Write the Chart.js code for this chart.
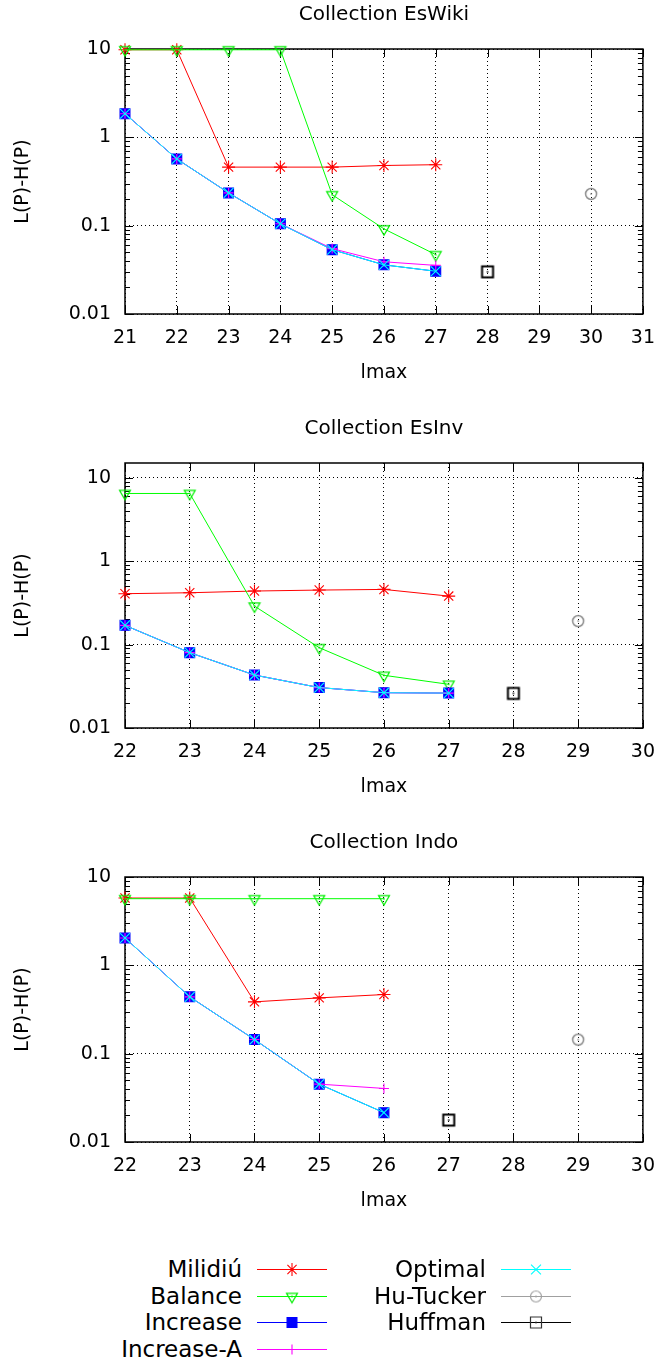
<!DOCTYPE html>
<html>
<head>
<meta charset="utf-8">
<script src="https://cdn.jsdelivr.net/npm/chart.js"></script>
<style>
  html, body { margin: 0; padding: 0; background: #fff; }
  #page { position: relative; width: 668px; height: 1364px; font-family: 'DejaVu Sans', sans-serif; }
  #page canvas.chart { position: absolute; left: 0; }
  .lg-label { position: absolute; left: 0; text-align: right; font-size: 23px; line-height: 26px; color: #000; white-space: nowrap; }
  .lg-sample { position: absolute; }
</style>
</head>
<body>
<div id="page">
  <canvas class="chart" id="c1" width="668" height="400" style="top:0"></canvas>
  <canvas class="chart" id="c2" width="668" height="400" style="top:414px"></canvas>
  <canvas class="chart" id="c3" width="668" height="400" style="top:828px"></canvas>
  <div id="legend"></div>
</div>
<script>
// ─── Data ─────────────────────────────────────────────────────────────────────

const yTickValues = [0.01, 0.1, 1, 10];
const yTickLabels = ['0.01', '0.1', '1', '10'];

// Collection EsWiki
const eswikiXTicks    = [21, 22, 23, 24, 25, 26, 27, 28, 29, 30, 31];
const eswikiLmax      = [21, 22, 23, 24, 25, 26, 27];
const eswikiMilidiu   = [9.8, 9.8, 0.46, 0.46, 0.46, 0.48, 0.49];
const eswikiBalance   = [9.8, 9.8, 9.8, 9.8, 0.224, 0.092, 0.047];
const eswikiIncrease  = [1.85, 0.57, 0.235, 0.105, 0.0535, 0.036, 0.0305];
const eswikiIncreaseA = [1.85, 0.57, 0.235, 0.105, 0.055, 0.039, 0.0355];
const eswikiOptimal   = [1.85, 0.57, 0.235, 0.105, 0.0535, 0.036, 0.0305];
const eswikiHuTuckerLmax = [30];
const eswikiHuTucker     = [0.229];
const eswikiHuffmanLmax  = [28];
const eswikiHuffman      = [0.030];

// Collection EsInv
const esinvXTicks    = [22, 23, 24, 25, 26, 27, 28, 29, 30];
const esinvLmax      = [22, 23, 24, 25, 26, 27];
const esinvMilidiu   = [0.407, 0.418, 0.438, 0.45, 0.458, 0.381];
const esinvBalance   = [6.47, 6.47, 0.289, 0.0918, 0.0428, 0.0334];
const esinvIncrease  = [0.170, 0.080, 0.0431, 0.0305, 0.0265, 0.0262];
const esinvIncreaseA = [0.170, 0.080, 0.0431, 0.0305, 0.0265, 0.0262];
const esinvOptimal   = [0.170, 0.080, 0.0431, 0.0305, 0.0265, 0.0262];
const esinvHuTuckerLmax = [29];
const esinvHuTucker     = [0.191];
const esinvHuffmanLmax  = [28];
const esinvHuffman      = [0.026];

// Collection Indo
const indoXTicks    = [22, 23, 24, 25, 26, 27, 28, 29, 30];
const indoLmax      = [22, 23, 24, 25, 26];
const indoMilidiu   = [5.78, 5.78, 0.386, 0.428, 0.467];
const indoBalance   = [5.68, 5.68, 5.68, 5.68, 5.68];
const indoIncrease  = [2.04, 0.44, 0.1445, 0.0452, 0.0215];
const indoIncreaseA = [2.04, 0.44, 0.1445, 0.0452, 0.0404];
const indoOptimal   = [2.04, 0.44, 0.1445, 0.0452, 0.0215];
const indoHuTuckerLmax = [29];
const indoHuTucker     = [0.144];
const indoHuffmanLmax  = [27];
const indoHuffman      = [0.0177];

// ─── Marker glyphs (gnuplot-like open points with a centre dot) ──────────────

function glyph(kind, color, lw) {
  const c = document.createElement('canvas');
  c.width = c.height = 18;
  const g = c.getContext('2d');
  const m = 9;
  g.strokeStyle = color;
  g.fillStyle = color;
  g.lineWidth = lw;
  g.beginPath();
  if (kind === 'tri') {
    g.moveTo(m - 5.5, m - 3.2);
    g.lineTo(m + 5.5, m - 3.2);
    g.lineTo(m, m + 6.3);
    g.closePath();
  } else if (kind === 'circle') {
    g.arc(m, m, 5.5, 0, 2 * Math.PI);
  } else {
    g.rect(m - 5.5, m - 5.5, 11, 11);
  }
  g.stroke();
  g.fillRect(m - 0.75, m - 0.75, 1.5, 1.5);
  return c;
}

const STYLES = {
  milidiu:   { label: 'Milidiú',    color: '#ff0000', pointStyle: 'star',     pointRadius: 6.5, order: 7 },
  balance:   { label: 'Balance',    color: '#00ff00', pointStyle: glyph('tri', '#00ee00', 1.2), legendStyle: glyph('tri', '#00ee00', 1.2), pointRadius: 6, order: 6 },
  increase:  { label: 'Increase',   color: '#0000ff', pointStyle: 'rect',     pointRadius: 7, fill: true, order: 5 },
  increaseA: { label: 'Increase-A', color: '#ff00ff', pointStyle: 'cross',    pointRadius: 5, order: 4 },
  optimal:   { label: 'Optimal',    color: '#00ffff', pointStyle: 'crossRot', pointRadius: 7, order: 3 },
  huTucker:  { label: 'Hu-Tucker',  color: '#a0a0a0', pointStyle: glyph('circle', '#8c8c8c', 1.5), legendStyle: glyph('circle', '#a0a0a0', 1.2), pointRadius: 6, order: 2, noLine: true },
  huffman:   { label: 'Huffman',    color: '#000000', pointStyle: glyph('square', '#000', 2), legendStyle: glyph('square', '#333', 1.2), pointRadius: 6, order: 1, noLine: true },
};

function series(key, xs, ys) {
  const s = STYLES[key];
  return {
    label: s.label,
    data: xs.map((x, i) => ({ x, y: ys[i] })),
    borderColor: s.color,
    backgroundColor: s.fill ? s.color : 'rgba(0,0,0,0)',
    borderWidth: 1,
    pointStyle: s.pointStyle,
    pointRadius: s.pointRadius,
    pointBorderWidth: 1.1,
    showLine: !s.noLine,
    tension: 0,
    clip: false,
    order: s.order,
  };
}

// ─── Frame and inward ticks ───────────────────────────────────────────────────

const frameTicks = {
  id: 'frameTicks',
  beforeDatasetsDraw(chart) {
    const { ctx, chartArea: a, scales: { x, y } } = chart;
    ctx.save();
    ctx.strokeStyle = '#000';
    ctx.lineWidth = 1;
    const seg = (x1, y1, x2, y2) => { ctx.beginPath(); ctx.moveTo(x1, y1); ctx.lineTo(x2, y2); ctx.stroke(); };
    x.ticks.forEach(t => {
      const px = Math.round(x.getPixelForValue(t.value)) + 0.5;
      seg(px, a.bottom, px, a.bottom - 8);
      seg(px, a.top, px, a.top + 8);
    });
    y.ticks.forEach(t => {
      const py = Math.round(y.getPixelForValue(t.value)) + 0.5;
      seg(a.left, py, a.left + 8, py);
      seg(a.right, py, a.right - 8, py);
    });
    for (let k = -2; k <= 1; k++) {
      for (let m = 2; m <= 9; m++) {
        const v = m * Math.pow(10, k);
        if (v < y.min || v > y.max) continue;
        const py = Math.round(y.getPixelForValue(v)) + 0.5;
        seg(a.left, py, a.left + 5, py);
        seg(a.right, py, a.right - 5, py);
      }
    }
    ctx.lineWidth = 1.5;
    ctx.strokeRect(a.left, a.top, a.right - a.left, a.bottom - a.top);
    ctx.restore();
  },
};

// ─── Chart builder ────────────────────────────────────────────────────────────

const FONT = 'DejaVu Sans';

function renderPanel(canvasId, title, xTicks, yMax, datasets) {
  const canvas = document.getElementById(canvasId);
  new Chart(canvas, {
    type: 'line',
    data: { datasets },
    options: {
      responsive: false,
      animation: false,
      events: [],
      layout: { padding: { left: 0, right: 16, top: 0, bottom: 0 } },
      plugins: {
        legend: { display: false },
        tooltip: { enabled: false },
        title: {
          display: true,
          text: title,
          fullSize: false,
          color: '#000',
          font: { family: FONT, size: 20, weight: 'normal', lineHeight: 1.2 },
          padding: { top: 3, bottom: 22 },
        },
      },
      scales: {
        x: {
          type: 'linear',
          min: xTicks[0],
          max: xTicks[xTicks.length - 1],
          afterBuildTicks: s => { s.ticks = xTicks.map(v => ({ value: v })); },
          afterFit: s => { s.height = 86; },
          ticks: {
            callback: (v, i) => String(xTicks[i]),
            color: '#000',
            padding: 13,
            maxRotation: 0,
            font: { family: FONT, size: 19 },
          },
          grid: { color: '#000', lineWidth: 1, drawTicks: false },
          border: { display: false, dash: [1, 3] },
          title: {
            display: true,
            text: 'lmax',
            color: '#000',
            font: { family: FONT, size: 19, lineHeight: 1.2 },
            padding: { top: 0, bottom: 16 },
          },
        },
        y: {
          type: 'logarithmic',
          min: 0.01,
          max: yMax,
          afterBuildTicks: s => { s.ticks = yTickValues.map(v => ({ value: v })); },
          afterFit: s => { s.width = 125; },
          ticks: {
            callback: (v, i) => yTickLabels[i],
            color: '#000',
            padding: 14,
            font: { family: FONT, size: 19 },
          },
          grid: { color: '#000', lineWidth: 1, drawTicks: false },
          border: { display: false, dash: [1, 3] },
          title: {
            display: true,
            text: 'L(P)-H(P)',
            color: '#000',
            font: { family: FONT, size: 19, lineHeight: 1.2 },
            padding: { top: 12, bottom: 0 },
          },
        },
      },
    },
    plugins: [frameTicks],
  });
}

renderPanel('c1', 'Collection EsWiki', eswikiXTicks, 10, [
  series('milidiu',   eswikiLmax, eswikiMilidiu),
  series('balance',   eswikiLmax, eswikiBalance),
  series('increase',  eswikiLmax, eswikiIncrease),
  series('increaseA', eswikiLmax, eswikiIncreaseA),
  series('optimal',   eswikiLmax, eswikiOptimal),
  series('huTucker',  eswikiHuTuckerLmax, eswikiHuTucker),
  series('huffman',   eswikiHuffmanLmax, eswikiHuffman),
]);

renderPanel('c2', 'Collection EsInv', esinvXTicks, 15, [
  series('milidiu',   esinvLmax, esinvMilidiu),
  series('balance',   esinvLmax, esinvBalance),
  series('increase',  esinvLmax, esinvIncrease),
  series('increaseA', esinvLmax, esinvIncreaseA),
  series('optimal',   esinvLmax, esinvOptimal),
  series('huTucker',  esinvHuTuckerLmax, esinvHuTucker),
  series('huffman',   esinvHuffmanLmax, esinvHuffman),
]);

renderPanel('c3', 'Collection Indo', indoXTicks, 10, [
  series('milidiu',   indoLmax, indoMilidiu),
  series('balance',   indoLmax, indoBalance),
  series('increase',  indoLmax, indoIncrease),
  series('increaseA', indoLmax, indoIncreaseA),
  series('optimal',   indoLmax, indoOptimal),
  series('huTucker',  indoHuTuckerLmax, indoHuTucker),
  series('huffman',   indoHuffmanLmax, indoHuffman),
]);

// ─── Shared legend ────────────────────────────────────────────────────────────

const LEGEND_ROWS = [1269, 1295.7, 1322.3, 1349];
const LEGEND_COLS = [{ textRight: 242, lineLeft: 257 }, { textRight: 486, lineLeft: 501 }];
const legendLayout = [
  ['milidiu', 0, 0], ['balance', 0, 1], ['increase', 0, 2], ['increaseA', 0, 3],
  ['optimal', 1, 0], ['huTucker', 1, 1], ['huffman', 1, 2],
];

function renderLegend() {
  const box = document.getElementById('legend');
  legendLayout.forEach(([key, col, row]) => {
    const s = STYLES[key];
    const cy = LEGEND_ROWS[row];
    const c = LEGEND_COLS[col];

    const label = document.createElement('div');
    label.className = 'lg-label';
    label.style.width = c.textRight + 'px';
    label.style.top = (cy - 13) + 'px';
    label.textContent = s.label;
    box.appendChild(label);

    const cv = document.createElement('canvas');
    cv.className = 'lg-sample';
    cv.width = 70; cv.height = 20;
    cv.style.left = c.lineLeft + 'px';
    cv.style.top = (cy - 10) + 'px';
    box.appendChild(cv);
    const g = cv.getContext('2d');
    g.strokeStyle = s.color;
    g.lineWidth = 1.2;
    g.beginPath(); g.moveTo(0, 10.5); g.lineTo(70, 10.5); g.stroke();
    g.fillStyle = s.fill ? s.color : 'rgba(0,0,0,0)';
    g.lineWidth = 1.1;
    Chart.helpers.drawPoint(g, {
      pointStyle: s.legendStyle || s.pointStyle,
      radius: s.pointRadius,
      rotation: 0,
      borderWidth: 1,
    }, 35, 10.5);
  });
}

renderLegend();
</script>
</body>
</html>
